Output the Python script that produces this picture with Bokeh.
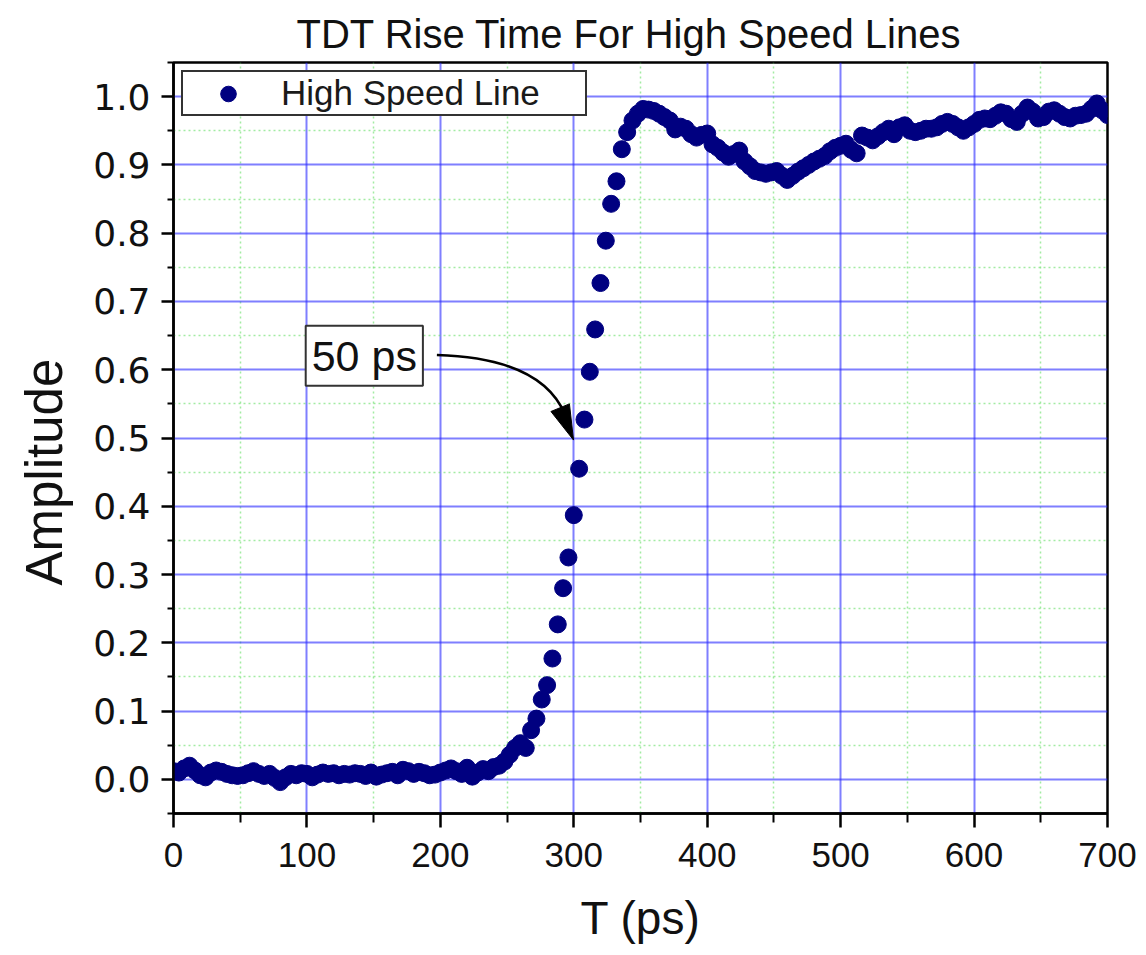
import math
from bokeh.plotting import figure
from bokeh.models import (Range1d, FixedTicker, PrintfTickFormatter, Label, Title)
from bokeh.embed import file_html
from bokeh.resources import INLINE

# ---------------- data ----------------
TITLE = "TDT Rise Time For High Speed Lines"
X_LABEL = "T (ps)"
Y_LABEL = "Amplitude"
SERIES_NAME = "High Speed Line"
NOTE_TEXT = "50 ps"

t_ps = [
    0, 4, 8, 12, 16, 20, 24, 28, 32, 36,
    40, 44, 48, 52, 56, 60, 64, 68, 72, 76,
    80, 84, 88, 92, 96, 100, 104, 108, 112, 116,
    120, 124, 128, 132, 136, 140, 144, 148, 152, 156,
    160, 164, 168, 172, 176, 180, 184, 188, 192, 196,
    200, 204, 208, 212, 216, 220, 224, 228, 232, 236,
    240, 244, 248, 252, 256, 260, 264, 268, 272, 276,
    280, 284, 288, 292, 296, 300, 304, 308, 312, 316,
    320, 324, 328, 332, 336, 340, 344, 348, 352, 356,
    360, 364, 368, 372, 376, 380, 384, 388, 392, 396,
    400, 404, 408, 412, 416, 420, 424, 428, 432, 436,
    440, 444, 448, 452, 456, 460, 464, 468, 472, 476,
    480, 484, 488, 492, 496, 500, 504, 508, 512, 516,
    520, 524, 528, 532, 536, 540, 544, 548, 552, 556,
    560, 564, 568, 572, 576, 580, 584, 588, 592, 596,
    600, 604, 608, 612, 616, 620, 624, 628, 632, 636,
    640, 644, 648, 652, 656, 660, 664, 668, 672, 676,
    680, 684, 688, 692, 696, 700,
]

amplitude = [
    0.012, 0.010, 0.016, 0.020, 0.013, 0.006, 0.003, 0.010, 0.013, 0.011,
    0.008, 0.006, 0.005, 0.006, 0.009, 0.012, 0.008, 0.005, 0.008, 0.002,
    -0.004, 0.003, 0.008, 0.006, 0.009, 0.008, 0.003, 0.007, 0.010, 0.008,
    0.009, 0.006, 0.008, 0.007, 0.009, 0.008, 0.005, 0.010, 0.004, 0.007,
    0.009, 0.011, 0.006, 0.014, 0.012, 0.008, 0.011, 0.009, 0.006, 0.007,
    0.010, 0.013, 0.016, 0.012, 0.008, 0.017, 0.004, 0.010, 0.015, 0.012,
    0.018, 0.020, 0.026, 0.036, 0.046, 0.053, 0.046, 0.072, 0.089, 0.117,
    0.138, 0.177, 0.227, 0.280, 0.325, 0.387, 0.455, 0.527, 0.597, 0.659,
    0.727, 0.789, 0.843, 0.876, 0.923, 0.948, 0.965, 0.975, 0.982, 0.981,
    0.979, 0.975, 0.970, 0.965, 0.952, 0.956, 0.953, 0.945, 0.940, 0.944,
    0.946, 0.930, 0.925, 0.918, 0.912, 0.916, 0.921, 0.905, 0.898, 0.891,
    0.889, 0.887, 0.889, 0.891, 0.884, 0.878, 0.884, 0.890, 0.895, 0.900,
    0.905, 0.909, 0.913, 0.920, 0.925, 0.928, 0.931, 0.922, 0.917, 0.943,
    0.940, 0.936, 0.942, 0.948, 0.953, 0.945, 0.955, 0.958, 0.950, 0.948,
    0.950, 0.953, 0.953, 0.955, 0.960, 0.963, 0.960, 0.955, 0.950, 0.955,
    0.960, 0.966, 0.968, 0.967, 0.972, 0.977, 0.975, 0.967, 0.963, 0.975,
    0.984, 0.978, 0.968, 0.970, 0.978, 0.980, 0.975, 0.970, 0.968, 0.972,
    0.973, 0.975, 0.982, 0.990, 0.980, 0.973,
]

x_major = [0, 100, 200, 300, 400, 500, 600, 700]
x_minor = [50, 150, 250, 350, 450, 550, 650]
y_major = [0.0, 0.1, 0.2, 0.3, 0.4, 0.5, 0.6, 0.7, 0.8, 0.9, 1.0]
y_minor = [-0.05, 0.05, 0.15, 0.25, 0.35, 0.45, 0.55, 0.65, 0.75, 0.85, 0.95, 1.05]

X_RANGE = (0, 700)
Y_RANGE = (-0.05, 1.05)

# annotation geometry (data units)
note_pos = (143.0, 0.6205)
curve_start = (197.4, 0.6215)
curve_ctrl = (276.0, 0.6171)
curve_end = (293.6, 0.5336)
arrow_tip = (299.8, 0.497)

# ---------------- layout ----------------
FRAME_W, FRAME_H = 934, 751
PX_PER_X = FRAME_W / (X_RANGE[1] - X_RANGE[0])
PX_PER_Y = FRAME_H / (Y_RANGE[1] - Y_RANGE[0])

NAVY = "#000080"
FONT = "Liberation Sans"

p = figure(
    frame_width=FRAME_W, frame_height=FRAME_H,
    min_border_left=173, min_border_top=62, min_border_right=31, min_border_bottom=130,
    x_range=Range1d(*X_RANGE), y_range=Range1d(*Y_RANGE),
    output_backend="svg", toolbar_location=None,
    title=TITLE,
)
p.background_fill_color = "white"
p.border_fill_color = "white"
p.outline_line_color = "black"
p.outline_line_width = 2.5
p.outline_line_alpha = 1

p.title.text_font = FONT
p.title.text_font_size = "40px"
p.title.text_font_style = "normal"
p.title.text_color = "#111111"
p.title.align = "left"
p.title.offset = 123
p.title.standoff = 14
p.title.text_line_height = 0.8

xt = FixedTicker(ticks=x_major, minor_ticks=x_minor)
yt = FixedTicker(ticks=y_major, minor_ticks=y_minor)
p.xaxis.ticker = xt
p.yaxis.ticker = yt
p.xgrid.ticker = xt
p.ygrid.ticker = yt
p.xaxis.formatter = PrintfTickFormatter(format="%d")
p.yaxis.formatter = PrintfTickFormatter(format="%.1f")

for ax in (p.xaxis, p.yaxis):
    ax.axis_line_width = 2.5
    ax.axis_line_color = "black"
    ax.major_tick_line_width = 2.5
    ax.minor_tick_line_width = 2
    ax.major_tick_line_color = "black"
    ax.minor_tick_line_color = "black"
    ax.major_tick_in = 0
    ax.minor_tick_in = 0
    ax.major_label_text_color = "#111111"

p.xaxis.major_tick_out = 14
p.xaxis.minor_tick_out = 9
p.yaxis.major_tick_out = 12
p.yaxis.minor_tick_out = 6
p.xaxis.major_label_text_font = FONT
p.xaxis.major_label_text_font_size = "35px"
p.xaxis.major_label_standoff = 15
p.yaxis.major_label_text_font = "DejaVu Sans"
p.yaxis.major_label_text_font_size = "36px"
p.yaxis.major_label_standoff = 11

p.xaxis.axis_label = X_LABEL
p.xaxis.axis_label_text_font = FONT
p.xaxis.axis_label_text_font_size = "46px"
p.xaxis.axis_label_text_font_style = "normal"
p.xaxis.axis_label_text_color = "#111111"
p.xaxis.axis_label_standoff = 22

for g in (p.xgrid, p.ygrid):
    g.grid_line_color = "#2a2aff"
    g.grid_line_alpha = 0.6
    g.grid_line_width = 2
    g.minor_grid_line_color = "#66dd66"
    g.minor_grid_line_alpha = 0.6
    g.minor_grid_line_width = 1.5
    g.minor_grid_line_dash = "2 3"

p.scatter(t_ps, amplitude, size=17, color=NAVY, legend_label=SERIES_NAME)

leg = p.legend[0]
leg.location = "top_left"
leg.margin = 8
leg.padding = 1
leg.spacing = 0
leg.glyph_width = 88
leg.glyph_height = 39
leg.label_height = 39
leg.label_width = 303
leg.label_standoff = 9
leg.border_line_color = "#333333"
leg.border_line_width = 2
leg.border_line_alpha = 1
leg.background_fill_alpha = 1
leg.label_text_font = FONT
leg.label_text_font_size = "35px"
leg.label_text_color = "#1a1a1a"

# y axis title as a side title (its centre sits below the frame centre)
ytitle = Title(text=Y_LABEL, align="left", offset=228, standoff=31, vertical_align="top",
               text_font=FONT, text_font_size="51px", text_font_style="normal",
               text_color="#111111")
p.add_layout(ytitle, "left")

# "50 ps" boxed note
p.add_layout(Label(x=note_pos[0], y=note_pos[1], text=NOTE_TEXT,
                   text_align="center", text_baseline="middle",
                   text_font=FONT, text_font_size="43px", text_color="#111111",
                   background_fill_color="white", border_line_color="#333333",
                   border_line_width=2, padding=6))

# curved arrow
p.quadratic(x0=[curve_start[0]], y0=[curve_start[1]], x1=[curve_end[0]], y1=[curve_end[1]],
            cx=[curve_ctrl[0]], cy=[curve_ctrl[1]], line_color="black", line_width=2.6)

# arrow head: filled triangle, 35px long, 20px wide, pointing along the curve end tangent
dx_px = (curve_end[0] - curve_ctrl[0]) * PX_PER_X
dy_px = -(curve_end[1] - curve_ctrl[1]) * PX_PER_Y
n = math.hypot(dx_px, dy_px)
ux, uy = dx_px / n, dy_px / n
HEAD_LEN, HEAD_HALF = 35, 10
tip_px = (0.0, 0.0)
base_px = (-HEAD_LEN * ux, -HEAD_LEN * uy)
perp = (-uy, ux)
pts = [tip_px,
       (base_px[0] + HEAD_HALF * perp[0], base_px[1] + HEAD_HALF * perp[1]),
       (base_px[0] - HEAD_HALF * perp[0], base_px[1] - HEAD_HALF * perp[1])]
hx = [arrow_tip[0] + px / PX_PER_X for px, py in pts]
hy = [arrow_tip[1] - py / PX_PER_Y for px, py in pts]
p.patch(hx, hy, fill_color="black", line_color="black", line_width=1)

open("out.html", "w").write(file_html(p, INLINE))
